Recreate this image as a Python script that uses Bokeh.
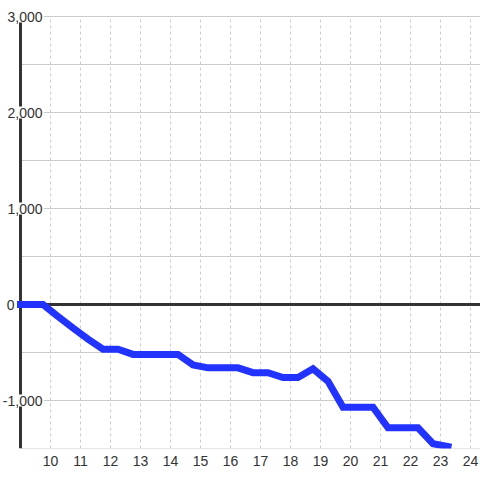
from bokeh.plotting import figure
from bokeh.models import Range1d, FixedTicker
from bokeh.core.properties import value
from bokeh.embed import file_html
from bokeh.resources import INLINE

# ---- data ----
hours = [9.0, 9.25, 9.75, 10.25, 10.75, 11.25, 11.75, 12.25, 12.75, 13.25,
         13.75, 14.25, 14.75, 15.25, 15.75, 16.25, 16.75, 17.25, 17.75, 18.25,
         18.75, 19.25, 19.75, 20.25, 20.75, 21.25, 21.75, 22.25, 22.75, 23.25]
values = [0, 0, 0, -125, -245, -360, -465, -465, -520, -520,
          -520, -520, -630, -660, -660, -660, -710, -710, -760, -760,
          -670, -800, -1070, -1070, -1070, -1285, -1285, -1285, -1450, -1480]
x_ticks = [10, 11, 12, 13, 14, 15, 16, 17, 18, 19, 20, 21, 22, 23, 24]
y_ticks = [-1000, 0, 1000, 2000, 3000]
y_grid = [-1500, -1000, -500, 0, 500, 1000, 1500, 2000, 2500, 3000]
y_labels = ["-1,000", "0", "1,000", "2,000", "3,000"]
axis_x = 9
y_min, y_max = -1500, 3000

TEXT = "#333333"
GRID = "#cccccc"
AXIS = "#333333"

W, H = 480, 480
frame_h = 448
px_per_x = 30.0
px_per_y = 0.096
x_start = axis_x - 20 / px_per_x
x_end = x_start + W / px_per_x
y_top = y_max + 16 / px_per_y

p = figure(width=W, height=H, output_backend="svg", toolbar_location=None,
           x_range=Range1d(x_start, x_end), y_range=Range1d(y_min, y_top),
           y_axis_location=None, min_border_left=0, min_border_top=0,
           min_border_right=0, min_border_bottom=H - frame_h)
p.outline_line_color = None
p.background_fill_color = "white"
p.border_fill_color = "white"
p.xgrid.visible = False
p.ygrid.visible = False

# x axis (labels only)
xa = p.xaxis[0]
xa.ticker = FixedTicker(ticks=x_ticks)
xa.axis_line_color = None
xa.major_tick_line_color = None
xa.minor_tick_line_color = None
xa.major_label_standoff = 1
xa.major_label_text_font = "Liberation Sans"
xa.major_label_text_font_size = "14px"
xa.major_label_text_color = TEXT

# grid lines
p.segment(x0=x_ticks, y0=[y_min] * len(x_ticks), x1=x_ticks, y1=[y_max] * len(x_ticks),
          line_color=GRID, line_width=1, line_dash="3 3")
p.segment(x0=[axis_x] * len(y_grid), y0=y_grid, x1=[x_end] * len(y_grid), y1=y_grid,
          line_color=GRID, line_width=1)

# zero line and axis line
p.segment(x0=[axis_x], y0=[0], x1=[x_end], y1=[0], line_color=AXIS, line_width=3)
p.segment(x0=[axis_x], y0=[y_min], x1=[axis_x], y1=[y_max], line_color=AXIS, line_width=3)

# data line
p.line(hours, values, line_width=7, line_color="#2233ff", line_join="miter",
       line_cap="square")

# y labels (text glyphs with a white background that hides the axis line)
offsets = [-5 if v == 0 else 23 for v in y_ticks]
p.text(x=[axis_x] * len(y_ticks), y=y_ticks, text=y_labels, x_offset=offsets,
       text_align="right", text_baseline="middle",
       text_font=value("Liberation Sans"), text_font_size=value("14px"),
       text_color=TEXT, background_fill_color="white", padding=1)

open("out.html", "w").write(file_html(p, INLINE))
